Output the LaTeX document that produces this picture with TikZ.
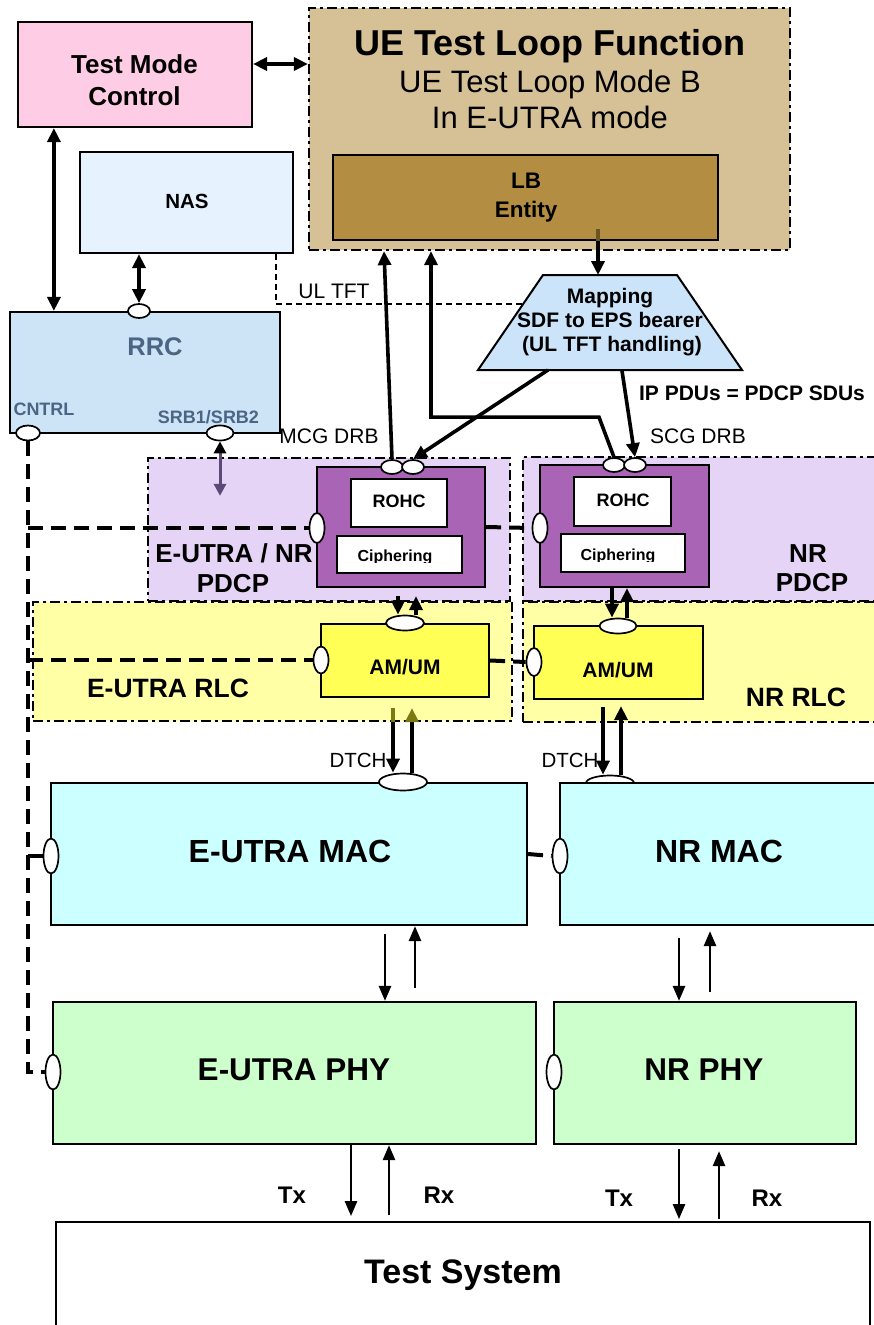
\documentclass[tikz,border=0pt]{standalone}
\usepackage{fontspec}
\setmainfont{Liberation Sans}
\usetikzlibrary{arrows.meta,shapes.geometric,calc}
\definecolor{tmcfill}{HTML}{FFCCE5}
\definecolor{uefill}{HTML}{D6C196}
\definecolor{lbfill}{HTML}{B38E42}
\definecolor{lbline}{HTML}{6B5424}
\definecolor{nasfill}{HTML}{E6F3FF}
\definecolor{rrcfill}{HTML}{CDE3F6}
\definecolor{rrctext}{HTML}{4B6584}
\definecolor{mapfill}{HTML}{CCE4FA}
\definecolor{pdcpreg}{HTML}{E6D4F6}
\definecolor{pdcpbox}{HTML}{A964B5}
\definecolor{rlcreg}{HTML}{FFFFA6}
\definecolor{rlcbox}{HTML}{FFFF55}
\definecolor{macfill}{HTML}{CCFFFF}
\definecolor{phyfill}{HTML}{CCFFCC}
\definecolor{srbline}{HTML}{5E4878}
\definecolor{olivec}{HTML}{7A7A10}
\newcommand\fsz[1]{\fontsize{#1pt}{#1pt}\selectfont}
\begin{document}
\begin{tikzpicture}[x=1pt,y=-1pt,
  box/.style={rectangle,draw=black,line width=2.2pt,inner sep=0pt},
  region/.style={rectangle,draw=black,line width=2.3pt,dash pattern=on 10pt off 4pt on 3pt off 4pt,inner sep=0pt},
  port/.style={ellipse,draw=black,fill=white,line width=1.7pt,inner sep=0pt},
  ctrl/.style={line width=4pt,dash pattern=on 15pt off 8pt},
  thindash/.style={line width=1.8pt,dash pattern=on 6pt off 4pt},
  arrT/.style={line width=3.6pt,-{Triangle[length=14pt,width=13pt]}},
  arrW/.style={line width=4pt,-{Triangle[length=14pt,width=13pt]}},
  dblT/.style={line width=3.6pt,{Triangle[length=14pt,width=13pt]}-{Triangle[length=14pt,width=13pt]}},
  arrM/.style={line width=2.6pt,-{Triangle[length=15pt,width=12pt]}},
  lbl/.style={inner sep=0pt,anchor=base,align=center}
]
\useasboundingbox (0,0) rectangle (873,1325);
\fill[white] (0,0) rectangle (873,1325);

% ---------- upper blocks
\node[region,fill=uefill,minimum width=481pt,minimum height=242pt] (uetl) at (549.5,129) {};
\node[box,fill=lbfill,minimum width=385pt,minimum height=85pt] (lb) at (525.5,197.5) {};
\node[box,fill=tmcfill,minimum width=234pt,minimum height=105pt] (tmc) at (135,74.5) {};
\node[box,fill=nasfill,minimum width=213pt,minimum height=101pt] (nas) at (186.5,202.5) {};
\node[box,fill=rrcfill,minimum width=270pt,minimum height=121pt] (rrc) at (145,372.5) {};

% ---------- mapping trapezoid
\coordinate (mapTL) at (543,275);
\coordinate (mapTR) at (677,275);
\coordinate (mapBR) at (742,370);
\coordinate (mapBL) at (478,370);
\draw[line width=2pt,fill=mapfill] (mapTL) -- (mapTR) -- (mapBR) -- (mapBL) -- cycle;

% ---------- PDCP / RLC regions
\node[region,fill=pdcpreg,minimum width=362pt,minimum height=143pt] (pdcpE) at (329,529.5) {};
\node[region,fill=pdcpreg,minimum width=357pt,minimum height=144pt] (pdcpN) at (701.5,529) {};
\node[region,fill=rlcreg,minimum width=479pt,minimum height=119pt] (rlcE) at (272.5,661.5) {};
\node[region,fill=rlcreg,minimum width=357pt,minimum height=120pt] (rlcN) at (701.5,662) {};

% ---------- entities
\node[box,fill=pdcpbox,minimum width=168pt,minimum height=120pt] (pEbox) at (401,527) {};
\node[box,fill=white,minimum width=96pt,minimum height=48pt] (rohcE) at (399,503) {};
\node[box,fill=white,minimum width=125pt,minimum height=37pt] (ciphE) at (399.5,554.5) {};
\node[box,fill=pdcpbox,minimum width=169pt,minimum height=122pt] (pNbox) at (624.5,526) {};
\node[box,fill=white,minimum width=97pt,minimum height=49pt] (rohcN) at (622.5,501.5) {};
\node[box,fill=white,minimum width=124pt,minimum height=38pt] (ciphN) at (623,553) {};
\node[box,fill=rlcbox,minimum width=168pt,minimum height=73pt] (aE) at (405,660.5) {};
\node[box,fill=rlcbox,minimum width=169pt,minimum height=73pt] (aN) at (618.5,662.5) {};
\node[port,minimum width=48pt,minimum height=15pt] (mNt) at (610,783) {};
\node[box,fill=macfill,minimum width=476pt,minimum height=142pt] (mE) at (289,854) {};
\node[box,fill=macfill,minimum width=320pt,minimum height=142pt] (mN) at (720,854) {};
\node[box,fill=phyfill,minimum width=483pt,minimum height=142pt] (phE) at (294.5,1073) {};
\node[box,fill=phyfill,minimum width=302pt,minimum height=142pt] (phN) at (705,1073) {};
\node[box,fill=white,line width=1.8pt,minimum width=814pt,minimum height=130pt] (ts) at (463,1287) {};

% ---------- ports
\node[port,minimum width=22pt,minimum height=14pt] (rrcTop) at (139,311) {};
\node[port,minimum width=24pt,minimum height=15pt] (cntrl) at (28,433) {};
\node[port,minimum width=27pt,minimum height=15pt] (srb) at (220,433) {};
\node[port,minimum width=22pt,minimum height=14pt] (pE1) at (392,467) {};
\node[port,minimum width=22pt,minimum height=14pt] (pE2) at (413,467) {};
\node[port,minimum width=22pt,minimum height=14pt] (pN1) at (614,465) {};
\node[port,minimum width=22pt,minimum height=14pt] (pN2) at (635,465) {};
\node[port,minimum width=15pt,minimum height=30pt] (pEl) at (317,528) {};
\node[port,minimum width=15pt,minimum height=30pt] (pNl) at (540,528) {};
\node[port,minimum width=38pt,minimum height=15pt] (rEt) at (405,623) {};
\node[port,minimum width=37pt,minimum height=15pt] (rNt) at (618,626) {};
\node[port,minimum width=15pt,minimum height=27pt] (rEl) at (321,660) {};
\node[port,minimum width=15pt,minimum height=28pt] (rNl) at (534,662) {};
\node[port,minimum width=48pt,minimum height=17pt] (mEt) at (403,782) {};
\node[port,minimum width=15pt,minimum height=35pt] (mEl) at (51,856) {};
\node[port,minimum width=15pt,minimum height=35pt] (mNl) at (560,856) {};
\node[port,minimum width=15pt,minimum height=35pt] (phEl) at (53,1072) {};
\node[port,minimum width=15pt,minimum height=35pt] (phNl) at (554,1072) {};

% ---------- control (dashed) lines
\draw[ctrl] (cntrl.south) -- (cntrl.south |- phEl.west) -- (phEl.west);
\draw[ctrl] (cntrl.south |- pEl.west) -- (pEl.west);
\draw[ctrl] (cntrl.south |- rEl.west) -- (rEl.west);
\draw[ctrl] (cntrl.south |- mEl.west) -- (mEl.west);
\draw[ctrl] (pEbox.east) -- (pNl.west);
\draw[ctrl] (aE.east) -- (rNl.west);
\draw[ctrl] (mE.east) -- (mNl.west);

% ---------- arrows, top part
\coordinate (c1) at ([yshift=10.5pt]tmc.east);
\draw[dblT] (c1) -- (c1 -| uetl.west);
\coordinate (c2) at ([xshift=37pt]tmc.south west);
\draw[dblT] (c2) -- (c2 |- rrc.north);
\draw[dblT] (rrcTop.north |- nas.south) -- (rrcTop.north);
\coordinate (c3) at ([xshift=-18pt]nas.south east);
\coordinate (mapL) at ($(mapTL)!0.305!(mapBL)$);
\draw[thindash] (c3) |- (mapL);
\coordinate (c4) at ([xshift=72.5pt,yshift=12pt]lb.south);
\draw[arrT] (c4) -- (c4 |- mapTL);
\draw[line width=3.6pt,lbline] (c4) -- (c4 |- lb.south);
\coordinate (u1) at ([xshift=-165.5pt]uetl.south);
\draw[arrT] (pE1.north) -- (u1);
\coordinate (u2) at ([xshift=-118.5pt]uetl.south);
\draw[arrT] (pN1.north) -- ++(-15,-40) -| (u2);
\coordinate (mapB1) at ($(mapBL)!0.265!(mapBR)$);
\coordinate (mapB2) at ($(mapBL)!0.545!(mapBR)$);
\draw[arrT] (mapB1) -- (pE2.north);
\draw[arrT] (mapB2) -- (pN2.north);
\coordinate (srbEnd) at ([yshift=-54.5pt]srb.south);
\draw[line width=3pt,srbline,{Triangle[length=12pt,width=12pt,color=black]}-{Triangle[length=12pt,width=12pt]}] (srb.south) -- (srbEnd);

% ---------- PDCP -> RLC
\draw[arrT] ([xshift=-3pt,yshift=-8pt]pEbox.south) -- ([xshift=-7pt]rEt.north);
\draw[arrT] ([xshift=11pt]rEt.north) -- ([xshift=15pt,yshift=-8pt]pEbox.south);
\draw[arrT] ([xshift=-12.5pt]pNbox.south) -- ([xshift=-6pt]rNt.north);
\draw[arrT] ([xshift=9pt]rNt.north) -- ([xshift=2.5pt]pNbox.south);

% ---------- RLC -> MAC (DTCH)
\coordinate (dtE1) at ([xshift=-12pt,yshift=-10pt]aE.south);
\draw[arrW] (dtE1) -- ([xshift=-10pt]mEt.north);
\draw[line width=4pt,-{Triangle[length=14pt,width=13pt,color=olivec]}] ([xshift=9pt]mEt.north) -- ([xshift=7pt,yshift=-10pt]aE.south);
\draw[line width=4pt,olivec] (dtE1) -- ([xshift=-12pt,yshift=-24pt]aE.south);
\draw[arrW] ([xshift=-15.5pt,yshift=-7pt]aN.south) -- ([xshift=-7pt]mNt.north);
\draw[arrW] ([xshift=11pt]mNt.north) -- ([xshift=2.5pt,yshift=-6pt]aN.south);

% ---------- MAC -> PHY
\draw[arrM] ([xshift=96pt,yshift=-8pt]mE.south) -- ([xshift=90.5pt]phE.north);
\draw[arrM] ([xshift=120.5pt,yshift=13pt]phE.north) -- ([xshift=126pt]mE.south);
\draw[arrM] ([xshift=-41pt,yshift=-12pt]mN.south) -- ([xshift=-26pt]phN.north);
\draw[arrM] ([xshift=5pt,yshift=9pt]phN.north) -- ([xshift=-10pt,yshift=-5pt]mN.south);

% ---------- PHY -> Test System
\draw[arrM] ([xshift=56.5pt]phE.south) -- ([xshift=-112pt,yshift=5pt]ts.north);
\draw[arrM] ([xshift=-74pt,yshift=6pt]ts.north) -- ([xshift=94.5pt]phE.south);
\draw[arrM] ([xshift=-26pt,yshift=-4pt]phN.south) -- ([xshift=216pt,yshift=2pt]ts.north);
\draw[arrM] ([xshift=256pt,yshift=2pt]ts.north) -- ([xshift=14pt,yshift=-6pt]phN.south);

% ---------- labels
\node[lbl,font=\bfseries\fsz{26}] (tmcT1) at (134.5,73) {Test Mode};
\node[lbl,font=\bfseries\fsz{26}] (tmcT2) at (134.5,105) {Control};
\node[lbl,font=\bfseries\fsz{36}] (ueT1) at (550,55) {UE Test Loop Function};
\node[lbl,font=\fsz{31}] (ueT2) at (550,92) {UE Test Loop Mode B};
\node[lbl,font=\fsz{31}] (ueT3) at (550,128) {In E-UTRA mode};
\node[lbl,font=\bfseries\fsz{22.5}] (lbT1) at (526,188) {LB};
\node[lbl,font=\bfseries\fsz{22.5}] (lbT2) at (526,217) {Entity};
\node[lbl,font=\bfseries\fsz{20.5}] (nasT) at (187,208) {NAS};
\node[lbl,font=\fsz{21}] (ultftT) at (334,298) {UL TFT};
\node[lbl,font=\bfseries\fsz{25.5},text=rrctext] (rrcT) at (155,355) {RRC};
\node[lbl,font=\bfseries\fsz{18},text=rrctext] (cntrlT) at (44,415) {CNTRL};
\node[lbl,font=\bfseries\fsz{18},text=rrctext] (srbT) at (208.5,423) {SRB1/SRB2};
\node[lbl,font=\bfseries\fsz{21}] (mapT1) at (610,303) {Mapping};
\node[lbl,font=\bfseries\fsz{21}] (mapT2) at (610,327) {SDF to EPS bearer};
\node[lbl,font=\bfseries\fsz{21}] (mapT3) at (612,351) {(UL TFT handling)};
\node[lbl,font=\bfseries\fsz{21}] (ipT) at (752,400) {IP PDUs = PDCP SDUs};
\node[lbl,font=\fsz{21}] (mcgT) at (329,443) {MCG DRB};
\node[lbl,font=\fsz{21}] (scgT) at (698,443) {SCG DRB};
\node[lbl,font=\bfseries\fsz{26}] (pdcpET1) at (234,562) {E-UTRA / NR};
\node[lbl,font=\bfseries\fsz{26}] (pdcpET2) at (233,592) {PDCP};
\node[lbl,font=\bfseries\fsz{18}] (rohcET) at (399,507) {ROHC};
\node[lbl,font=\bfseries\fsz{18}] (rohcNT) at (623,506) {ROHC};
\begin{scope}
\clip (335,538) rectangle (465,562.5);
\node[lbl,font=\bfseries\fsz{16}] (ciphET) at (395,561) {Ciphering};
\end{scope}
\begin{scope}
\clip (560,536) rectangle (684,561.5);
\node[lbl,font=\bfseries\fsz{16}] (ciphNT) at (618,560) {Ciphering};
\end{scope}
\node[lbl,font=\bfseries\fsz{26}] (pdcpNT1) at (808,562) {NR};
\node[lbl,font=\bfseries\fsz{26}] (pdcpNT2) at (812,591) {PDCP};
\node[lbl,font=\bfseries\fsz{21}] (aET) at (405,674) {AM/UM};
\node[lbl,font=\bfseries\fsz{21}] (aNT) at (618,677) {AM/UM};
\node[lbl,font=\bfseries\fsz{26.5}] (rlcET) at (168,697) {E-UTRA RLC};
\node[lbl,font=\bfseries\fsz{26.5}] (rlcNT) at (796,706) {NR RLC};
\node[lbl,font=\fsz{20.5}] (dtET) at (358,767) {DTCH};
\node[lbl,font=\fsz{20.5}] (dtNT) at (570,767) {DTCH};
\node[lbl,font=\bfseries\fsz{32}] (mET) at (290,862) {E-UTRA MAC};
\node[lbl,font=\bfseries\fsz{32}] (mNT) at (719,862) {NR MAC};
\node[lbl,font=\bfseries\fsz{31.5}] (phET) at (294,1080) {E-UTRA PHY};
\node[lbl,font=\bfseries\fsz{31.5}] (phNT) at (704,1080) {NR PHY};
\node[lbl,font=\bfseries\fsz{24}] (txE) at (292,1203) {Tx};
\node[lbl,font=\bfseries\fsz{24}] (rxE) at (439,1203) {Rx};
\node[lbl,font=\bfseries\fsz{24}] (txN) at (619,1206) {Tx};
\node[lbl,font=\bfseries\fsz{24}] (rxN) at (767,1206) {Rx};
\node[lbl,font=\bfseries\fsz{34}] (tsT) at (463,1283) {Test System};
\end{tikzpicture}
\end{document}
